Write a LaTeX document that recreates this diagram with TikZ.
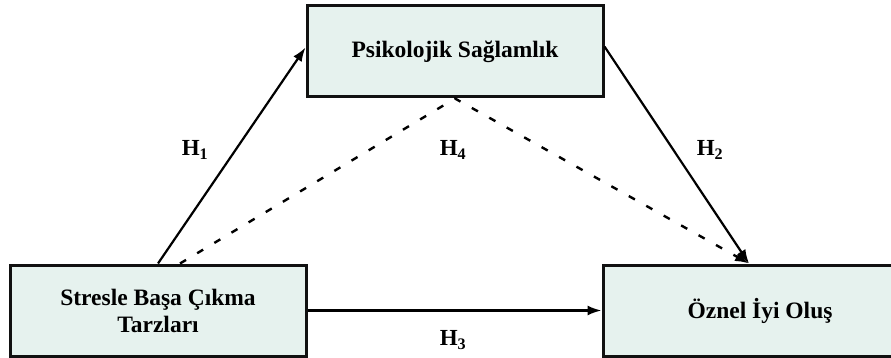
\documentclass[tikz,border=0pt]{standalone}
\usepackage{fontspec}
\setmainfont{Liberation Serif}
\usetikzlibrary{arrows.meta}
\definecolor{boxfill}{HTML}{E6F2EE}
\definecolor{boxline}{HTML}{111111}
\tikzset{
  varbox/.style={draw=boxline, fill=boxfill, line width=3pt, minimum height=91pt,
    inner sep=0pt, align=center, font=\fontsize{23.5}{27}\selectfont\bfseries},
  path arrow/.style={line width=2.2pt, -{Latex[length=14pt,width=10pt]}},
  indirect arrow/.style={line width=2.4pt, dash pattern=on 7pt off 13pt,
    -{Latex[length=14pt,width=10pt]}},
  hyp/.style={font=\fontsize{23}{26}\selectfont\bfseries, inner sep=0pt}
}
\begin{document}
\begin{tikzpicture}[x=1pt, y=-1pt]
  \useasboundingbox (0,0) rectangle (891,358);
  \clip (0,0) rectangle (891,358);

  % variables
  \node[varbox, minimum width=296pt] (ps) at (455,51.5) {Psikolojik Sağlamlık};
  \node[varbox, minimum width=296pt] (st) at (158,310.5) {Stresle Başa Çıkma\\Tarzları};
  \node[varbox, minimum width=314pt] (oz) at (760,310.5) {Öznel İyi Oluş};

  % anchor points on the box edges
  \coordinate (psin) at ([yshift=4pt]ps.west);
  \coordinate (psout) at ([yshift=5pt]ps.east);
  \coordinate (ozin) at ([xshift=-11pt]oz.north);
  \coordinate (stdash) at ([xshift=22pt]st.north);

  % direct paths
  \draw[path arrow] (st.north) -- (psin);
  \draw[path arrow] (psout) -- (ozin);
  \draw[path arrow] (st.east) -- (oz.west);

  % mediated path
  \draw[indirect arrow] (stdash) -- (ps.south) -- (ozin);

  % hypothesis labels
  \node[hyp] (h1) at (195,150) {H\textsubscript{1}};
  \node[hyp] (h4) at (453,150) {H\textsubscript{4}};
  \node[hyp] (h2) at (710,150) {H\textsubscript{2}};
  \node[hyp] (h3) at (453,340) {H\textsubscript{3}};
\end{tikzpicture}
\end{document}
